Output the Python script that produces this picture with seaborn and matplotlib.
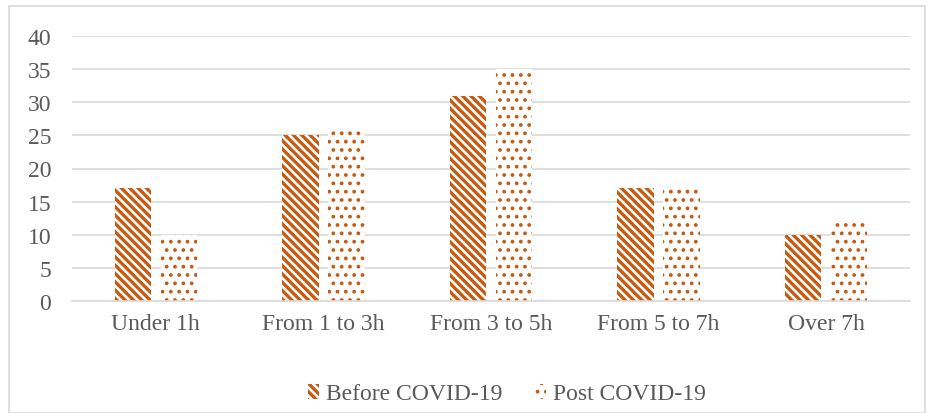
import pandas as pd
import matplotlib
matplotlib.use("Agg")
import matplotlib.pyplot as plt
import matplotlib.patches as mpatches
import seaborn as sns

# Chart data
categories = ['Under 1h', 'From 1 to 3h', 'From 3 to 5h', 'From 5 to 7h', 'Over 7h']
before_covid = [17, 25, 31, 17, 10]
post_covid = [10, 26, 35, 17, 12]
series_names = ['Before COVID-19', 'Post COVID-19']

ORANGE = '#C55A11'
TEXT = '#595959'
GRID = '#D9D9D9'
FS = 17

df = pd.DataFrame({
    'Category': categories * 2,
    'Period': [series_names[0]] * len(categories) + [series_names[1]] * len(categories),
    'Value': before_covid + post_covid,
})

sns.set_style('white')
plt.rcParams['font.family'] = ['Liberation Serif', 'DejaVu Serif']
plt.rcParams['hatch.linewidth'] = 2.4

fig = plt.figure(figsize=(9.28, 4.14), dpi=100)
ax = fig.add_axes([72 / 928, 1 - 302 / 414, (910 - 72) / 928, (302 - 37) / 414])

sns.barplot(data=df, x='Category', y='Value', hue='Period', order=categories,
            hue_order=series_names, palette=['white', 'white'], width=0.55, gap=0.21,
            edgecolor=ORANGE, linewidth=0, legend=False, ax=ax)

hatches = ['\\\\\\\\', '..']
hatch_lw = [2.4, 1.5]
for cont, h, lw in zip(ax.containers, hatches, hatch_lw):
    for bar in cont:
        bar.set_hatch(h)
        bar.set_edgecolor(ORANGE)
        bar.set_linewidth(0)
        try:
            bar.set_hatch_linewidth(lw)
        except AttributeError:
            pass

ax.set_ylim(0, 40)
ax.set_yticks(range(0, 41, 5))
ax.set_xlabel('')
ax.set_ylabel('')
ax.grid(axis='y', color=GRID, linewidth=1.2)
ax.set_axisbelow(True)
for s in ['top', 'right', 'left']:
    ax.spines[s].set_visible(False)
ax.spines['bottom'].set_color(GRID)
ax.spines['bottom'].set_linewidth(1.2)
ax.tick_params(axis='both', length=0, labelsize=FS, colors=TEXT)
ax.tick_params(axis='y', pad=15)
ax.tick_params(axis='x', pad=9)

handles = [mpatches.Patch(facecolor='white', edgecolor=ORANGE, linewidth=0, hatch=h, label=n)
           for h, n in zip(hatches, series_names)]
leg = fig.legend(handles=handles, loc='center', bbox_to_anchor=(507 / 928, 1 - 395 / 414),
                 ncol=2, frameon=False, fontsize=FS, labelcolor=TEXT,
                 handlelength=0.45, handleheight=0.6, handletextpad=0.3, columnspacing=1.4)
for p, lw in zip(leg.get_patches(), hatch_lw):
    try:
        p.set_hatch_linewidth(lw)
    except AttributeError:
        pass

# light frame around the whole chart
fig.patches.append(mpatches.Rectangle((9 / 928, 0), 916 / 928, 1 - 7 / 414,
                                      transform=fig.transFigure, fill=False,
                                      edgecolor=GRID, linewidth=1.2))

fig.savefig('out.png', dpi=100)
